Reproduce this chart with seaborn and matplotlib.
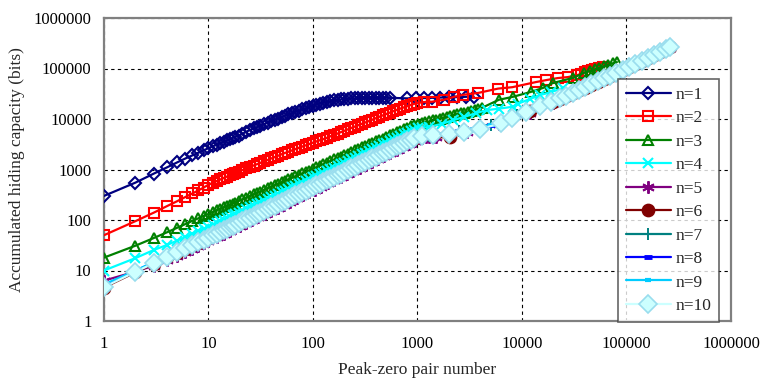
import matplotlib
matplotlib.use("Agg")
import matplotlib.pyplot as plt
import seaborn as sns
from matplotlib.ticker import FixedLocator, FixedFormatter, NullLocator

# ---------------- data ----------------
# fine x grid for the densely marked parts of the curves
G2 = [1, 2, 3, 4, 5, 6, 7, 8, 9, 10, 11, 12, 13, 14, 15, 16, 17, 18, 19.5, 21, 23, 25,
      27, 29, 31, 34, 37, 40, 43, 46, 50, 54, 58, 63, 68, 73, 79, 85, 92, 100, 108, 117,
      126, 136, 147, 159, 172, 185, 200, 216, 233, 252, 272, 294, 317, 343, 370, 400,
      432, 466, 504, 544, 588, 635, 686, 741, 800, 864, 933]
# coarser grid for the curves that are mostly hidden under n=10
G = [1, 2, 3, 4, 5, 6, 7, 8, 9, 10, 12, 14, 16, 18, 20, 23, 26, 30, 35, 40, 46, 53, 60,
     70, 80, 92, 105, 120, 140, 160, 185, 210, 240, 280, 320, 370, 420, 480, 550, 630,
     720, 830, 950]
BAND_X = [23000, 26500, 30500, 35000, 40000, 46000, 53000, 61000, 70000, 80000, 92000,
          105000, 120000, 140000, 160000, 185000, 210000, 240000, 262144]

x_n1 = G2[:62] + [800, 960, 1150, 1380, 1650, 2000, 2400, 2900, 3450]
y_n1 = [300, 550, 830, 1100, 1380, 1650, 1900, 2150, 2400, 2650, 2880, 3100, 3330, 3550,
        3780, 4000, 4200, 4400, 4700, 5050, 5600, 6050, 6500, 6900, 7300, 7900, 8500,
        9100, 9650, 10200, 10900, 11600, 12300, 13100, 13900, 14600, 15500, 16200,
        17300, 18300, 19300, 20200, 21000, 21800, 22500, 23300, 23900, 24400, 24800,
        25200, 25500, 25700, 25900, 26100, 26200, 26300, 26300, 26300, 26300, 26300,
        26300, 26300,
        25600, 25800, 26000, 26300, 26600, 26900, 27200, 27500, 27800]

x_n2 = G2 + [1000, 1150, 1380, 1780, 2240, 2750, 3800, 5900, 8100, 13500, 17000, 21900,
             27500, 33900, 37000, 40000, 43000, 46500, 50000, 54000, 60000]
y_n2 = [50, 95, 140, 188, 235, 285, 335, 385, 440, 500, 545, 590, 635, 680, 725, 770,
        810, 850, 910, 970, 1050, 1120, 1200, 1270, 1340, 1450, 1550, 1660, 1760, 1860,
        2000, 2130, 2240, 2390, 2540, 2680, 2850, 3000, 3200, 3400, 3600, 3820, 4000,
        4250, 4550, 4850, 5150, 5500, 5850, 6250, 6650, 7100, 7550, 8050, 8550, 9100,
        9700, 10400, 11100, 11800, 12600, 13400, 14300, 15200, 16100, 17000, 18000,
        19000, 20000,
        20800, 21600, 22000, 24000, 27500, 30200, 32800, 40000, 42700, 53700, 58900,
        64600, 67600, 74100, 79000, 84000, 89000, 94000, 98000, 102000, 107000]

x_n3 = G2 + [1010, 1100, 1190, 1290, 1400, 1510, 1630, 1760, 1900, 2050, 2220, 2400,
             2590, 2800, 3020, 3260, 3520, 3800, 4100,
             6000, 8200, 12100, 15800, 19800, 30700, 39000, 45000, 50000, 55000, 61000,
             67000, 74000, 81000]
y_n3 = [18, 31, 44, 57, 70, 83, 96, 108, 120, 132, 144, 155, 167, 178, 189, 200, 211,
        222, 239, 256, 278, 300, 321, 342, 363, 394, 425, 455, 485, 515, 555, 595, 635,
        685, 735, 780, 835, 890, 950, 1030, 1110, 1195, 1280, 1370, 1470, 1580, 1700,
        1800, 1940, 2070, 2220, 2380, 2550, 2740, 2920, 3140, 3350, 3590, 3830, 4090,
        4380, 4720, 5040, 5430, 5820, 6240, 6680, 7150, 7600,
        7950, 8250, 8600, 8950, 9350, 9750, 10150, 10550, 11000, 11450, 11900, 12400,
        12900, 13400, 13950, 14500, 15100, 15800, 16500,
        24000, 27500, 34300, 41000, 51700, 65000, 81700, 89000, 96000, 103000, 111000,
        119000, 127000, 134000]

x_n4 = G2 + [1010, 1100, 1300, 1700, 2200, 2800, 3600, 4600, 6000, 8200, 9100, 12000,
             15000, 19000, 24500]
y_n4 = [10, 17.6, 25.5, 32, 39, 46, 53, 60, 67, 74, 81, 88, 95, 102, 109, 116, 123, 130,
        140, 150, 165, 179, 193, 207, 220, 242, 263, 285, 305, 325, 353, 380, 407, 442,
        476, 510, 552, 593, 640, 695, 750, 810, 870, 940, 1010, 1090, 1180, 1270, 1370,
        1480, 1590, 1720, 1850, 2000, 2150, 2320, 2500, 2700, 2910, 3140, 3390, 3650,
        3940, 4250, 4580, 4940, 5320, 5740, 6190,
        6500, 6700, 7000, 8000, 9500, 11000, 13000, 15000, 16000, 17500, 20000, 25000,
        30000, 34000, 41000]

x_n5 = G + [1100, 1200, 1300, 1400, 1500, 3000, 6000, 12000, 20000] + BAND_X
y_n5 = [6.3, 9.5, 12.5, 16, 19.5, 23.5, 27, 31, 35, 38.5, 46, 54, 61, 69, 77, 88, 100,
        115, 134, 153, 176, 202, 230, 268, 306, 352, 401, 459, 535, 612, 705, 803, 918,
        1070, 1220, 1410, 1600, 1840, 2110, 2400, 2750, 3170, 3630,
        4200, 4350, 4400, 4450, 4500, 5600, 7800, 13000, 20500,
        24000, 27500, 31500, 36000, 41000, 47000, 54000, 62000, 71000, 80500, 92000,
        105000, 120000, 139000, 159000, 183000, 208000, 238000, 260000]

x_n6 = G + [2040, 12000, 20000] + BAND_X
y_n6 = [4.6, 9.2, 13.7, 18.2, 22.5, 27, 31.4, 35.8, 40, 44, 53, 62, 70, 79, 88, 101, 115,
        132, 154, 176, 203, 233, 265, 309, 353, 406, 463, 530, 617, 706, 814, 926, 1060,
        1235, 1410, 1630, 1850, 2120, 2430, 2770, 3170, 3650, 4150,
        4400, 14500, 22000,
        25000, 28500, 32500, 37000, 42000, 48000, 55000, 63000, 72000, 82000, 93500,
        106500, 121500, 140500, 160500, 184500, 209500, 239500, 261500]

x_n7 = G + [1300, 2500, 5000, 9000, 15000] + BAND_X
y_n7 = [4.9, 9.6, 14.3, 19, 23.5, 28, 32.6, 37, 41.5, 46, 55, 64, 73, 82, 91, 104, 118,
        136, 158, 181, 208, 239, 272, 317, 362, 416, 474, 543, 633, 724, 834, 950, 1085,
        1265, 1445, 1665, 1895, 2165, 2485, 2835, 3245, 3735, 4275,
        4700, 5700, 7500, 12000, 18500,
        25200, 28800, 32800, 37200, 42200, 48200, 55200, 63200, 72200, 82200, 93800,
        106800, 121800, 140800, 160800, 184800, 209800, 239800, 261800]

x_n8 = G + [1300, 2500, 5000, 9000, 15000] + BAND_X
y_n8 = [5.1, 9.8, 14.5, 19.2, 23.8, 28.3, 33, 37.5, 42, 46.5, 55.5, 64.5, 73.5, 82.5,
        91.5, 105, 119, 137, 159, 182, 209, 240, 273, 318, 363, 417, 475, 544, 634, 725,
        835, 951, 1086, 1266, 1446, 1666, 1896, 2166, 2486, 2836, 3246, 3736, 4276,
        4750, 5750, 7600, 12100, 18600,
        25300, 28900, 32900, 37300, 42300, 48300, 55300, 63300, 72300, 82300, 93900,
        106900, 121900, 140900, 160900, 184900, 209900, 239900, 261900]

x_n9 = G + [1300, 2500, 5000, 9000, 15000] + BAND_X
y_n9 = [5.3, 10, 14.7, 19.4, 24, 28.6, 33.3, 37.8, 42.3, 46.8, 56, 65, 74, 83, 92, 105.5,
        119.5, 137.5, 159.5, 182.5, 209.5, 240.5, 273.5, 318.5, 363.5, 417.5, 475.5,
        544.5, 634.5, 725.5, 835.5, 951.5, 1087, 1267, 1447, 1667, 1897, 2167, 2487,
        2837, 3247, 3737, 4277,
        4800, 5800, 7700, 12200, 18700,
        25400, 29000, 33000, 37400, 42400, 48400, 55400, 63400, 72400, 82400, 94000,
        107000, 122000, 141000, 161000, 185000, 210000, 240000, 262000]

x_n10 = G2 + [1100, 1400, 2000, 2800, 4000, 6300, 8100, 11000, 15000, 19000] + BAND_X
y_n10 = [4.7, 9.4, 14, 18.6, 23, 27.5, 32, 36.5, 41, 45, 49.5, 54, 58.5, 63, 67.5, 72,
         76.5, 81, 88, 94, 103, 112, 121, 130, 139, 153, 166, 180, 193, 207, 225, 243,
         261, 283, 306, 328, 355, 382, 414, 450, 486, 526, 567, 612, 661, 715, 774, 832,
         900, 972, 1048, 1134, 1224, 1323, 1426, 1543, 1665, 1800, 1944, 2097, 2268,
         2448, 2646, 2857, 3087, 3334, 3600, 3888, 4198,
         4600, 4800, 5100, 5500, 6300, 8300, 10500, 13500, 18000, 22000,
         25500, 29000, 33000, 37500, 42500, 48500, 55500, 63500, 72500, 82500, 94000,
         107000, 122000, 141000, 161000, 185000, 210000, 240000, 262000]

labels = ["n=1", "n=2", "n=3", "n=4", "n=5", "n=6", "n=7", "n=8", "n=9", "n=10"]
xs = [x_n1, x_n2, x_n3, x_n4, x_n5, x_n6, x_n7, x_n8, x_n9, x_n10]
ys = [y_n1, y_n2, y_n3, y_n4, y_n5, y_n6, y_n7, y_n8, y_n9, y_n10]

tick_vals = [1, 10, 100, 1000, 10000, 100000, 1000000]
tick_labels = ["1", "10", "100", "1000", "10000", "100000", "1000000"]

# ---------------- styles ----------------
colors = ["#000080", "#FF0000", "#008000", "#00FFFF", "#800080", "#800000",
          "#008080", "#0000FF", "#00CCFF", "#CCFFFF"]
markers = ["D", "s", "^", "x", (6, 2, 0), "o", "+", "_", "_", "D"]
msizes = [6.3, 7.5, 7.5, 7.5, 9, 8.5, 8, 6, 4, 9]
mews = [1.5, 1.5, 1.5, 1.5, 1.4, 1.4, 1.4, 3.5, 3.0, 1.2]
mfc = ["none", "none", "none", "#00FFFF", "#800080", "#800000", "#008080", "#0000FF",
       "#00CCFF", "#CCFFFF"]
mec = ["#000080", "#FF0000", "#008000", "#00FFFF", "#800080", "#800000", "#008080",
       "#0000FF", "#00CCFF", "#99DDEE"]

sns.set_style("white")
plt.rcParams["font.family"] = ["Liberation Serif", "DejaVu Serif"]

fig = plt.figure(figsize=(7.62, 3.84), dpi=100)
ax = fig.add_axes([104 / 762, 1 - 321 / 384, (731 - 104) / 762, (321 - 18) / 384])

for i in range(10):
    sns.lineplot(x=xs[i], y=ys[i], ax=ax, color=colors[i], marker=markers[i],
                 markersize=msizes[i], markerfacecolor=mfc[i], markeredgecolor=mec[i],
                 markeredgewidth=mews[i], linewidth=1.6, label=labels[i],
                 estimator=None, sort=False, zorder=3 + i)

ax.set_xscale("log")
ax.set_yscale("log")
ax.set_xlim(1, 1000000)
ax.set_ylim(1, 1000000)
ax.xaxis.set_major_locator(FixedLocator(tick_vals))
ax.xaxis.set_major_formatter(FixedFormatter(tick_labels))
ax.yaxis.set_major_locator(FixedLocator(tick_vals))
ax.yaxis.set_major_formatter(FixedFormatter(tick_labels))
ax.xaxis.set_minor_locator(NullLocator())
ax.yaxis.set_minor_locator(NullLocator())

ax.grid(True, which="major", color="black", linestyle=(0, (3, 3)), linewidth=0.8)
ax.set_axisbelow(True)
for s in ax.spines.values():
    s.set_color("#808080")
    s.set_linewidth(1.6)

ax.tick_params(axis="both", which="major", labelsize=12, colors="#808080",
               labelcolor="black", length=4, width=1, direction="out")
ax.tick_params(axis="x", pad=7)
ax.tick_params(axis="y", pad=5)

ax.set_xlabel("Peak-zero pair number", fontsize=12.5, labelpad=7)
ax.set_ylabel("Accumulated hiding capacity (bits)", fontsize=12.5, labelpad=6)

h, l = ax.get_legend_handles_labels()
leg = ax.legend(h, l, loc="upper left", bbox_to_anchor=(618 / 762, 1 - 79 / 384),
                bbox_transform=fig.transFigure, frameon=True, fancybox=False,
                fontsize=12.5, handlelength=2.6, handletextpad=0.25, labelspacing=0.42,
                borderpad=0.45, borderaxespad=0)
leg.get_frame().set_edgecolor("#404040")
leg.get_frame().set_linewidth(1.2)
leg.set_zorder(30)

fig.savefig("out.png", dpi=100)
